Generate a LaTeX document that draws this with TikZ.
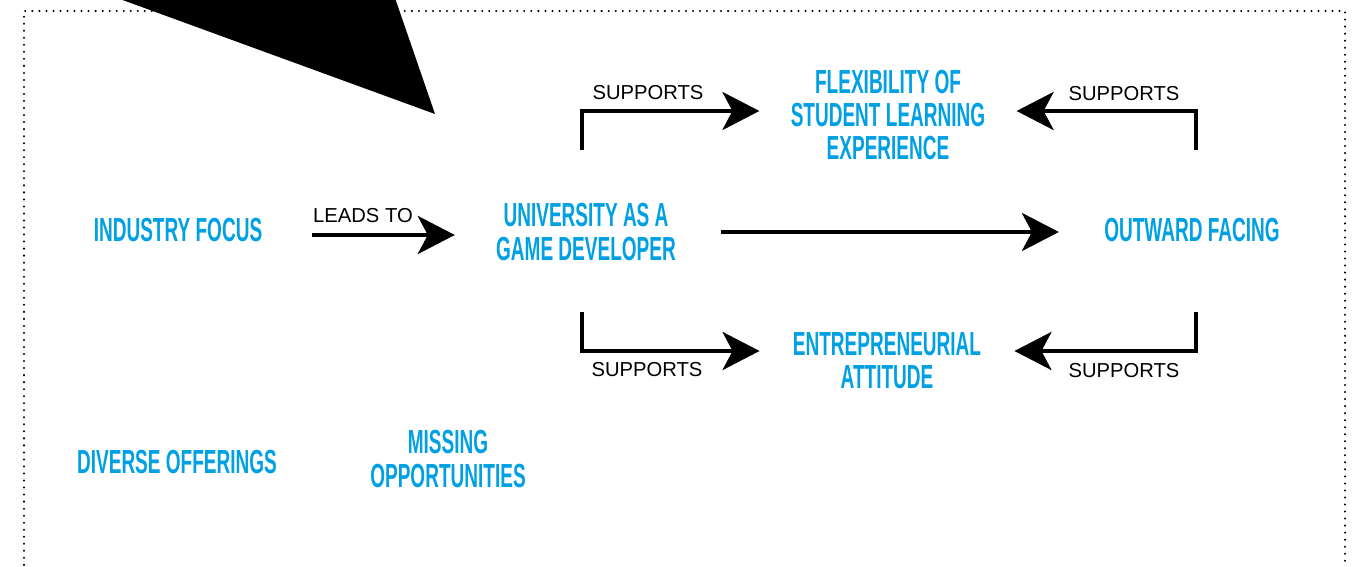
\documentclass[tikz,border=0pt]{standalone}
\usepackage{fontspec}
\setmainfont{Liberation Sans}
\newfontfamily\topicfont[FakeStretch=0.57]{Liberation Sans Bold}
\usetikzlibrary{arrows, arrows.meta}
\usetikzlibrary{positioning}

\definecolor{topicblue}{RGB}{0,160,227}

\tikzset{
    topic/.style = {text = topicblue, align = center, inner sep = 0pt,
                    font = \topicfont\fontsize{19}{18.8}\selectfont},
    relation/.style = {font = \fontsize{11.5}{13}\selectfont, inner sep = 0pt},
    conn/.style = {line width = 2.5pt,
                   -{Stealth[length = 0.74cm, width = 0.76cm, inset = 0.2cm]}},
    frame/.style = {line width = 1.3pt, line cap = round, dash pattern = on 0pt off 4pt}
}

\begin{document}
\begin{tikzpicture}[x = 0.02cm, y = -0.02cm]
    \clip (0,0) rectangle (1361,567);

    \draw[frame] (24,600) -- (24,11) -- (1345,11) -- (1345,600);

    % big black tip
    \fill (117,-2) -- (395,-2) -- (435,114) -- cycle;

    % topics
    \node[topic] (industry) at (178,230) {INDUSTRY FOCUS};
    \node[topic] (univ) at (586,232) {UNIVERSITY AS A\\GAME DEVELOPER};
    \node[topic] (outward) at (1192,230) {OUTWARD FACING};
    \node[topic] (flex) at (888,115) {FLEXIBILITY OF\\STUDENT LEARNING\\EXPERIENCE};
    \node[topic] (entre) at (887,361) {ENTREPRENEURIAL\\ATTITUDE};
    \node[topic] (diverse) at (177,462) {DIVERSE OFFERINGS};
    \node[topic] (missing) at (448,459) {MISSING\\OPPORTUNITIES};

    \coordinate (univ up) at (582,150);
    \coordinate (univ down) at (582,312);
    \coordinate (out up) at (1196,150);
    \coordinate (out down) at (1196,312);

    % connectors
    \draw[conn] ([xshift = 0.99cm, yshift = -0.1cm] industry.east)
        -- ([xshift = -0.82cm, yshift = -0.06cm] univ.west);
    \draw[conn, shorten < = 0.9cm, shorten > = 0.9cm]
        (univ.east) -- (univ.east -| outward.west);
    \draw[conn] (univ up) |- ([xshift = -0.62cm, yshift = 0.08cm] flex.west);
    \draw[conn] (out up) |- ([xshift = 0.62cm, yshift = 0.08cm] flex.east);
    \draw[conn] (univ down) |- ([xshift = -0.66cm, yshift = 0.2cm] entre.west);
    \draw[conn] (out down) |- ([xshift = 0.66cm, yshift = 0.2cm] entre.east);

    % relation labels
    \node[relation] (leads) at (363,216) {LEADS TO};
    \node[relation] (sup tl) at (648,93) {SUPPORTS};
    \node[relation] (sup tr) at (1124,94) {SUPPORTS};
    \node[relation] (sup bl) at (647,370) {SUPPORTS};
    \node[relation] (sup br) at (1124,371) {SUPPORTS};
\end{tikzpicture}
\end{document}
